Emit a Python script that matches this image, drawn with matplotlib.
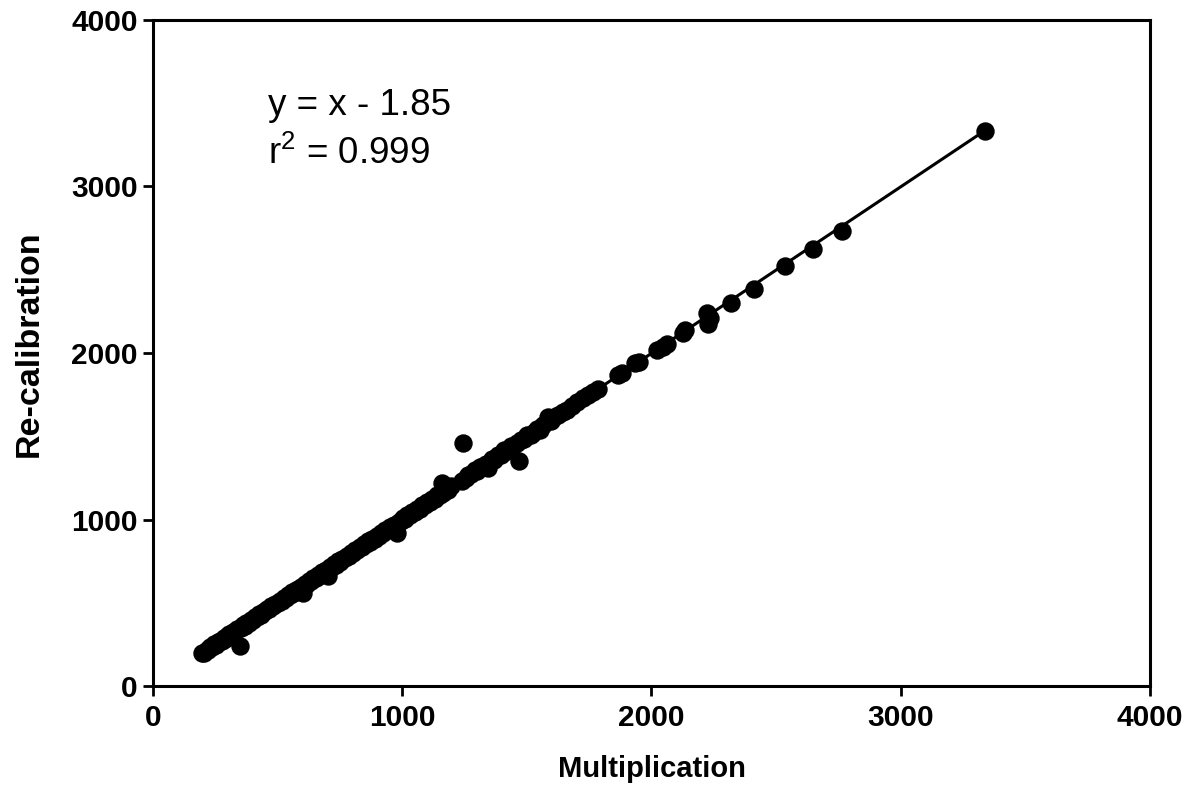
import matplotlib.pyplot as plt

plt.rcParams["mathtext.fontset"] = "custom"
plt.rcParams["mathtext.rm"] = "Liberation Sans"
plt.rcParams["mathtext.it"] = "Liberation Sans"

# ------------ data ------------
multiplication = [197, 205, 215, 222, 230, 238, 245, 252, 260, 268, 275, 283, 290, 298, 305,
                  312, 320, 330, 338, 349, 352, 360, 368, 375, 384, 392, 400, 410, 418, 425,
                  433, 441, 450, 458, 466, 475, 483, 490, 500, 508, 516, 525, 533, 541, 550,
                  558, 566, 575, 583, 592, 602, 610, 618, 626, 635, 643, 652, 660, 668, 677,
                  685, 694, 702, 710, 718, 727, 735, 744, 752, 760, 770, 778, 786, 795, 804,
                  812, 820, 830, 838, 846, 855, 864, 872, 880, 890, 898, 906, 915, 924, 932,
                  940, 950, 958, 966, 979, 985, 994, 1003, 1012, 1020, 1030, 1040, 1050, 1060,
                  1070, 1080, 1090, 1100, 1110, 1120, 1130, 1140, 1150, 1160, 1165, 1175, 1185,
                  1195, 1240, 1244, 1255, 1265, 1275, 1290, 1300, 1310, 1325, 1335, 1345, 1360,
                  1370, 1385, 1395, 1410, 1420, 1435, 1445, 1460, 1468, 1475, 1490, 1500, 1515,
                  1525, 1540, 1553, 1565, 1585, 1595, 1610, 1625, 1645, 1660, 1680, 1700, 1725,
                  1745, 1765, 1785, 1865, 1880, 1935, 1950, 2022, 2046, 2062, 2126, 2135, 2222,
                  2225, 2235, 2319, 2411, 2536, 2648, 2764, 3338]
recalibration = [198, 200, 218, 215, 232, 236, 250, 248, 262, 270, 272, 288, 285, 300, 310,
                 308, 322, 328, 342, 240, 350, 365, 362, 378, 380, 395, 398, 412, 415, 430,
                 428, 445, 448, 462, 460, 478, 480, 495, 498, 512, 510, 528, 530, 545, 548,
                 565, 560, 578, 580, 595, 559, 612, 615, 630, 628, 648, 650, 665, 660, 682,
                 680, 698, 660, 712, 715, 730, 725, 748, 742, 762, 768, 782, 780, 798, 800,
                 815, 818, 835, 832, 850, 852, 868, 866, 885, 885, 902, 900, 920, 918, 936,
                 935, 955, 952, 970, 919, 988, 990, 1008, 1005, 1025, 1025, 1045, 1045, 1065,
                 1065, 1085, 1085, 1105, 1105, 1125, 1125, 1145, 1145, 1220, 1160, 1180, 1180,
                 1200, 1230, 1460, 1250, 1270, 1275, 1295, 1290, 1315, 1320, 1335, 1310, 1365,
                 1360, 1390, 1390, 1415, 1412, 1440, 1440, 1460, 1351, 1480, 1485, 1505, 1510,
                 1520, 1545, 1538, 1570, 1616, 1590, 1615, 1630, 1646, 1660, 1680, 1705, 1730,
                 1745, 1766, 1785, 1868, 1882, 1940, 1948, 2018, 2036, 2055, 2120, 2140, 2240,
                 2175, 2210, 2300, 2384, 2523, 2625, 2733, 3333]

slope = 1.0
intercept = -1.85

plt.figure(figsize=(11.87, 7.87), dpi=100)
ax = plt.axes([0.1289, 0.1283, 0.8399, 0.8463])

# fit line (drawn over the data range)
x_fit = [min(multiplication), max(multiplication)]
y_fit = [slope * v + intercept for v in x_fit]
ax.plot(x_fit, y_fit, color="black", linewidth=2.2, zorder=2)

ax.scatter(multiplication, recalibration, s=150, color="black", zorder=3)

ax.set_xlim(0, 4000)
ax.set_ylim(0, 4000)
ax.set_xticks([0, 1000, 2000, 3000, 4000])
ax.set_yticks([0, 1000, 2000, 3000, 4000])

for side in ax.spines.values():
    side.set_linewidth(2.2)
ax.tick_params(direction="out", length=7, width=2, labelsize=21.5)
ax.tick_params(axis="x", pad=6)
ax.tick_params(axis="y", pad=4)
for lab in ax.get_xticklabels() + ax.get_yticklabels():
    lab.set_fontweight("bold")
    lab.set_fontfamily("Liberation Sans")

ax.set_xlabel("Multiplication", fontsize=21, fontweight="bold", family="Liberation Sans")
ax.set_ylabel("Re-calibration", fontsize=24.5, fontweight="bold", family="Liberation Sans")
ax.xaxis.set_label_coords(0.5, -0.103)
ax.yaxis.set_label_coords(-0.109, 0.5135)

# equation text
ax.text(0.1153, 0.857, "y = x - 1.85", transform=ax.transAxes,
        fontsize=26.5, family="Liberation Sans", va="baseline", ha="left")
ax.text(0.1153, 0.784, "r$^2$ = 0.999", transform=ax.transAxes,
        fontsize=26.5, family="Liberation Sans", va="baseline", ha="left")

plt.savefig("out.png", dpi=100)
